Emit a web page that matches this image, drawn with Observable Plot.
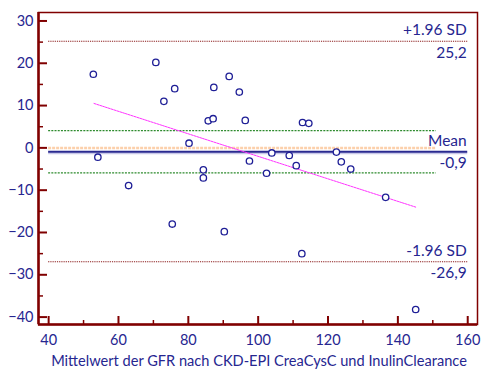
<!DOCTYPE html>
<html>
<head>
<meta charset="utf-8">
<script src="https://cdn.jsdelivr.net/npm/d3@7"></script>
<script src="https://cdn.jsdelivr.net/npm/@observablehq/plot@0.6"></script>
<style>
  html, body { margin: 0; padding: 0; background: #fff; }
  #chart svg { display: block; }
</style>
</head>
<body>
<div id="chart"></div>
<script>
// Data read from the Bland–Altman plot
const meanGFR = [52.8, 54.1, 62.9, 70.7, 73.0, 75.4, 76.1, 80.2, 84.3, 84.3,
                 85.7, 87.1, 87.3, 90.3, 91.7, 94.6, 96.3, 97.5, 102.4, 103.9,
                 108.9, 110.9, 112.5, 112.7, 114.5, 122.4, 123.8, 126.5, 136.5, 145.1];
const diffGFR = [17.4, -2.2, -8.9, 20.2, 11.0, -18.0, 14.0, 1.1, -5.2, -7.1,
                 6.4, 6.9, 14.3, -19.8, 16.9, 13.2, 6.5, -3.1, -6.0, -1.2,
                 -1.8, -4.2, -25.0, 6.0, 5.8, -1.0, -3.3, -5.0, -11.7, -38.2];
const meanDiff = -0.9;
const upperLoA = 25.2;
const lowerLoA = -26.9;
const ciMean = [4.1, -5.9];
const regX = [53.0, 145.1];
const regY = [10.5, -14.0];
const xMajorTicks = [40, 60, 80, 100, 120, 140, 160];
const xMinorTicks = [50, 70, 90, 110, 130, 150];
const yMajorTicks = [-40, -30, -20, -10, 0, 10, 20, 30];
const yMinorTicks = [-35, -25, -15, -5, 5, 15, 25];
const labels = [
  {y: upperLoA, top: "+1.96 SD", bottom: "25,2"},
  {y: meanDiff, top: "Mean", bottom: "-0,9"},
  {y: lowerLoA, top: "-1.96 SD", bottom: "-26,9"}
];
const xTitle = "Mittelwert der GFR nach CKD-EPI CreaCysC und InulinClearance";

const points = meanGFR.map((x, i) => ({x, y: diffGFR[i]}));
const reg = regX.map((x, i) => ({x, y: regY[i]}));

const W = 481, H = 369, mL = 38, mR = 4, mT = 12, mB = 45;
const innerW = W - mL - mR, innerH = H - mT - mB;
const axisRed = "#800000";
const navy = "#262690";
const font = "Lato, 'Open Sans', sans-serif";

const chart = Plot.plot({
  width: W,
  height: H,
  marginLeft: mL,
  marginRight: mR,
  marginTop: mT,
  marginBottom: mB,
  style: {fontFamily: font, fontSize: "14px", color: navy, background: "#fff"},
  x: {domain: [37.1, 162.8]},
  y: {domain: [-41.75, 32]},
  marks: [
    // reference lines
    Plot.ruleY([upperLoA, lowerLoA], {x1: 40, x2: 160, stroke: "#8b1a1a", strokeWidth: 1.1, strokeDasharray: "1.2,1"}),
    Plot.ruleY(ciMean, {x1: 40, x2: 151, stroke: "#2e8b2e", strokeWidth: 1.2, strokeDasharray: "2,1.2"}),
    Plot.ruleY([0], {x1: 40, x2: 151, stroke: "#fcd0ab", strokeWidth: 2.5, strokeDasharray: "3,1"}),
    Plot.ruleY([meanDiff], {x1: 40, x2: 160, stroke: "#c8c8e8", strokeWidth: 2, dy: 1.5}),
    Plot.ruleY([meanDiff], {x1: 40, x2: 160, stroke: "#2a2a90", strokeWidth: 2}),
    Plot.line(reg, {x: "x", y: "y", stroke: "#ff33ff", strokeWidth: 1, strokeDasharray: "2,1"}),
    // points
    Plot.dot(points, {x: "x", y: "y", r: 3.2, stroke: "#1e1e96", strokeWidth: 1.3, fill: "white"}),
    // side labels
    Plot.text(labels, {x: 160, y: "y", text: "top", textAnchor: "end", dy: -11, dx: -1, fill: navy, fontSize: 15.5}),
    Plot.text(labels, {x: 160, y: "y", text: "bottom", textAnchor: "end", dy: 11.5, dx: -1, fill: navy, fontSize: 15.5}),
    // frame
    Plot.frame({stroke: axisRed, strokeWidth: 1.5}),
    Plot.ruleX([37.1], {stroke: axisRed, strokeWidth: 2.5}),
    Plot.ruleY([-41.75], {stroke: axisRed, strokeWidth: 2.5}),
    // inside ticks
    Plot.ruleY(yMajorTicks, {stroke: axisRed, strokeWidth: 2, insetRight: innerW - 9}),
    Plot.ruleY(yMinorTicks, {stroke: axisRed, strokeWidth: 1.5, insetRight: innerW - 5}),
    Plot.ruleX(xMajorTicks, {stroke: axisRed, strokeWidth: 2, insetTop: innerH - 8}),
    Plot.ruleX(xMinorTicks, {stroke: axisRed, strokeWidth: 1.5, insetTop: innerH - 4}),
    // axes labels
    Plot.axisY(yMajorTicks, {tickSize: 0, tickPadding: 5, fill: navy, fontSize: 14.5, label: null}),
    Plot.axisX(xMajorTicks, {tickSize: 0, tickPadding: 10, fill: navy, fontSize: 14.5, label: null}),
    Plot.text([xTitle], {frameAnchor: "bottom", dy: 37, dx: 1, text: d => d, fill: navy, fontSize: 14.6, lineAnchor: "middle"})
  ]
});
document.getElementById("chart").appendChild(chart);
</script>
</body>
</html>
